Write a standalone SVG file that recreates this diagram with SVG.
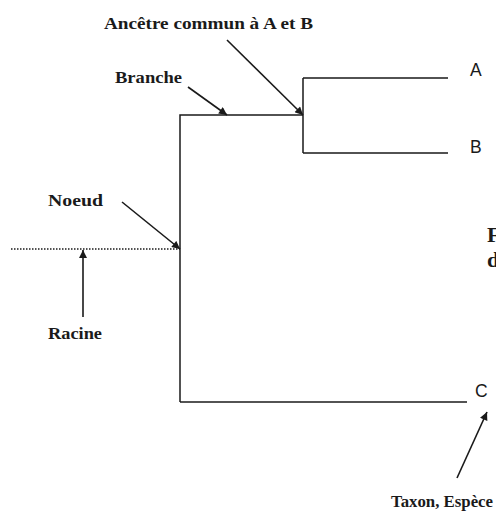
<svg xmlns="http://www.w3.org/2000/svg" width="496" height="516" viewBox="0 0 496 516">
<style>
.ln{stroke:#1a1a1a;stroke-width:1.5;fill:none}
.ar{stroke:#1a1a1a;stroke-width:1.6;fill:none;marker-end:url(#ah)}
.lbl{font-family:"Liberation Serif","Times New Roman",serif;font-weight:bold;font-size:16px;fill:#1a1a1a}
.tx{font-family:"Liberation Sans",Arial,sans-serif;font-size:17.5px;fill:#1a1a1a}
.ttl{font-family:"Liberation Serif","Times New Roman",serif;font-weight:bold;font-size:22px;fill:#1a1a1a}
</style>
<defs>
<marker id="ah" viewBox="0 0 10 10" refX="10" refY="5" markerWidth="9" markerHeight="8" markerUnits="userSpaceOnUse" orient="auto">
<path d="M0,0 L10,5 L0,10 z" fill="#1a1a1a"/>
</marker>
</defs>
<rect width="496" height="516" fill="#fff"/>
<g id="connectors">
<path class="ln" d="M303,78 V153 M303,78 H448 M303,153 H448"/>
<path class="ln" d="M180,402 V115 H303"/>
<path class="ln" d="M180,402 H467"/>
<path d="M11,249 H180" stroke="#1a1a1a" stroke-width="1.6" stroke-dasharray="1.5 1.5" fill="none"/>
<path class="ar" d="M227,40 L303,115"/>
<path class="ar" d="M188,87 L227,115"/>
<path class="ar" d="M122,202 L180,249"/>
<path class="ar" d="M83,317 L83,250"/>
<path class="ar" d="M457,478 L487,412"/>
</g>
<g id="node-ancetre"><text class="lbl" x="104" y="29" textLength="209" lengthAdjust="spacingAndGlyphs">Ancêtre commun à A et B</text></g>
<g id="node-branche"><text class="lbl" x="115" y="82.5" textLength="67" lengthAdjust="spacingAndGlyphs">Branche</text></g>
<g id="node-noeud"><text class="lbl" x="48" y="206" textLength="55" lengthAdjust="spacingAndGlyphs">Noeud</text></g>
<g id="node-racine"><text class="lbl" x="48" y="339" textLength="54" lengthAdjust="spacingAndGlyphs">Racine</text></g>
<g id="node-taxon"><text class="lbl" x="391" y="507" textLength="102" lengthAdjust="spacingAndGlyphs">Taxon, Espèce</text></g>
<g id="node-A"><text class="tx" x="470" y="76">A</text></g>
<g id="node-B"><text class="tx" x="470" y="153">B</text></g>
<g id="node-C"><text class="tx" x="475" y="397">C</text></g>
<g id="title"><text class="ttl" x="487" y="242">F</text><text class="ttl" x="487" y="267">d</text></g>
</svg>
